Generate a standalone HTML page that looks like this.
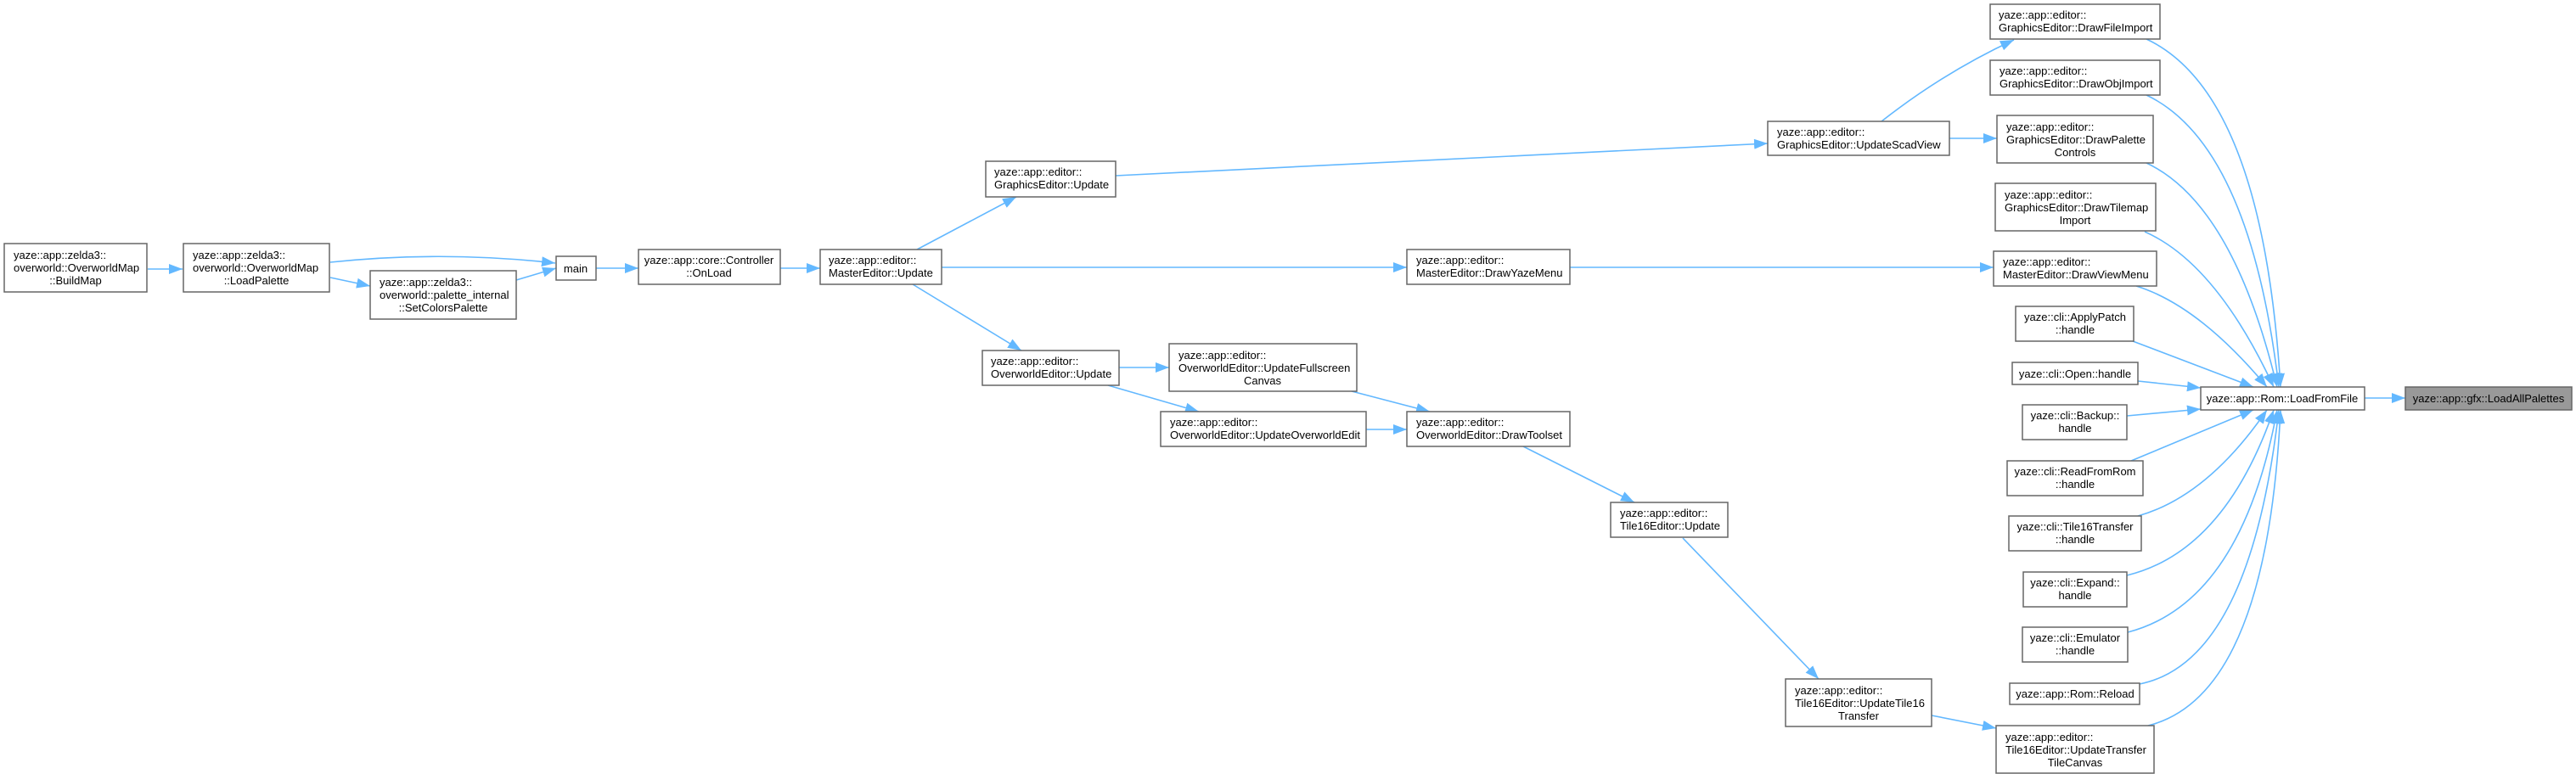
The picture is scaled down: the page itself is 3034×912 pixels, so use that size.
<!DOCTYPE html>
<html><head><meta charset="utf-8"><style>
html,body{margin:0;padding:0;background:#fff;}
svg{display:block;}
text{font-family:"Liberation Sans",sans-serif;font-size:13px;fill:#000;}
.n{fill:#fff;stroke:#666;stroke-width:1.5;}
.e{fill:none;stroke:#63b8ff;stroke-width:1.6;}
</style></head><body>
<svg width="3034" height="912" viewBox="0 0 3034 912" xmlns="http://www.w3.org/2000/svg">
<defs>
<marker id="b" viewBox="0 0 10 10" refX="10" refY="5" markerWidth="16" markerHeight="12" markerUnits="userSpaceOnUse" orient="auto" preserveAspectRatio="none"><path d="M0,0 L10,5 L0,10 z" fill="#63b8ff"/></marker></defs>

<g class="edges">
<path class="e" marker-end="url(#b)" d="M174,317 L215,317"/>
<path class="e" marker-end="url(#b)" d="M389,309 Q520,295 654,310"/>
<path class="e" marker-end="url(#b)" d="M389,327 L436,337"/>
<path class="e" marker-end="url(#b)" d="M608,330 L655,316"/>
<path class="e" marker-end="url(#b)" d="M702,316 L752,316"/>
<path class="e" marker-end="url(#b)" d="M919,316 L966,316"/>
<path class="e" marker-end="url(#b)" d="M1080,294 L1197,232"/>
<path class="e" marker-end="url(#b)" d="M1109,315 L1657,315"/>
<path class="e" marker-end="url(#b)" d="M1075,335 L1203,413"/>
<path class="e" marker-end="url(#b)" d="M1314,207 L2082,169"/>
<path class="e" marker-end="url(#b)" d="M1318,433 L1377,433"/>
<path class="e" marker-end="url(#b)" d="M1305,454 L1412,485"/>
<path class="e" marker-end="url(#b)" d="M1592,461 L1684,485"/>
<path class="e" marker-end="url(#b)" d="M1609,506 L1657,506"/>
<path class="e" marker-end="url(#b)" d="M1794,526 L1925,592"/>
<path class="e" marker-end="url(#b)" d="M1982,634 L2142,800"/>
<path class="e" marker-end="url(#b)" d="M2275,843 L2351,858"/>
<path class="e" marker-end="url(#b)" d="M2216,143 Q2290,85 2372,47"/>
<path class="e" marker-end="url(#b)" d="M2296,163 L2352,163"/>
<path class="e" marker-end="url(#b)" d="M1849,315 L2348,315"/>
<path class="e" marker-end="url(#b)" d="M2785,469 L2833,469"/>
<path class="e" marker-end="url(#b)" d="M2528,46 Q2665,110 2686,456"/>
<path class="e" marker-end="url(#b)" d="M2528,112 Q2650,170 2684,456"/>
<path class="e" marker-end="url(#b)" d="M2528,192 Q2630,240 2682,456"/>
<path class="e" marker-end="url(#b)" d="M2526,273 Q2610,310 2678,456"/>
<path class="e" marker-end="url(#b)" d="M2516,337 Q2590,360 2670,456"/>
<path class="e" marker-end="url(#b)" d="M2512,402 L2654,456"/>
<path class="e" marker-end="url(#b)" d="M2518,449 L2592,457"/>
<path class="e" marker-end="url(#b)" d="M2505,490 L2592,482"/>
<path class="e" marker-end="url(#b)" d="M2510,543 L2654,483"/>
<path class="e" marker-end="url(#b)" d="M2518,608 Q2600,585 2670,483"/>
<path class="e" marker-end="url(#b)" d="M2505,678 Q2620,650 2678,483"/>
<path class="e" marker-end="url(#b)" d="M2506,745 Q2640,710 2682,483"/>
<path class="e" marker-end="url(#b)" d="M2520,806 Q2650,780 2684,483"/>
<path class="e" marker-end="url(#b)" d="M2530,855 Q2670,820 2686,483"/>
</g>

<g>
<rect class="n" x="5" y="287" width="168" height="57"/>
<text x="16" y="305">yaze::app::zelda3::</text><text x="16" y="320">overworld::OverworldMap</text><text x="89" y="335" text-anchor="middle">::BuildMap</text>

<rect class="n" x="216" y="287" width="172" height="57"/>
<text x="227" y="305">yaze::app::zelda3::</text><text x="227" y="320">overworld::OverworldMap</text><text x="302" y="335" text-anchor="middle">::LoadPalette</text>

<rect class="n" x="436" y="319" width="172" height="57"/>
<text x="447" y="337">yaze::app::zelda3::</text><text x="447" y="352">overworld::palette_internal</text><text x="522" y="367" text-anchor="middle">::SetColorsPalette</text>

<rect class="n" x="655" y="302" width="47" height="28"/>
<text x="678" y="321" text-anchor="middle">main</text>

<rect class="n" x="752" y="294" width="167" height="41"/>
<text x="835" y="311" text-anchor="middle">yaze::app::core::Controller</text><text x="835" y="326" text-anchor="middle">::OnLoad</text>

<rect class="n" x="966" y="294" width="143" height="41"/>
<text x="976" y="311">yaze::app::editor::</text><text x="976" y="326">MasterEditor::Update</text>

<rect class="n" x="1161" y="190" width="153" height="42"/>
<text x="1171" y="207">yaze::app::editor::</text><text x="1171" y="222">GraphicsEditor::Update</text>

<rect class="n" x="1157" y="413" width="161" height="41"/>
<text x="1167" y="430">yaze::app::editor::</text><text x="1167" y="445">OverworldEditor::Update</text>

<rect class="n" x="1377" y="405" width="221" height="56"/>
<text x="1388" y="423">yaze::app::editor::</text><text x="1388" y="438">OverworldEditor::UpdateFullscreen</text><text x="1487" y="453" text-anchor="middle">Canvas</text>

<rect class="n" x="1367" y="485" width="242" height="41"/>
<text x="1378" y="502">yaze::app::editor::</text><text x="1378" y="517">OverworldEditor::UpdateOverworldEdit</text>

<rect class="n" x="1657" y="294" width="192" height="41"/>
<text x="1668" y="311">yaze::app::editor::</text><text x="1668" y="326">MasterEditor::DrawYazeMenu</text>

<rect class="n" x="1657" y="485" width="192" height="41"/>
<text x="1668" y="502">yaze::app::editor::</text><text x="1668" y="517">OverworldEditor::DrawToolset</text>

<rect class="n" x="2082" y="143" width="214" height="40"/>
<text x="2093" y="160">yaze::app::editor::</text><text x="2093" y="175">GraphicsEditor::UpdateScadView</text>

<rect class="n" x="1897" y="592" width="138" height="41"/>
<text x="1908" y="609">yaze::app::editor::</text><text x="1908" y="624">Tile16Editor::Update</text>

<rect class="n" x="2103" y="800" width="172" height="56"/>
<text x="2114" y="818">yaze::app::editor::</text><text x="2114" y="833">Tile16Editor::UpdateTile16</text><text x="2189" y="848" text-anchor="middle">Transfer</text>

<rect class="n" x="2344" y="5" width="200" height="41"/>
<text x="2354" y="22">yaze::app::editor::</text><text x="2354" y="37">GraphicsEditor::DrawFileImport</text>

<rect class="n" x="2344" y="71" width="200" height="41"/>
<text x="2355" y="88">yaze::app::editor::</text><text x="2355" y="103">GraphicsEditor::DrawObjImport</text>

<rect class="n" x="2352" y="136" width="184" height="56"/>
<text x="2363" y="154">yaze::app::editor::</text><text x="2363" y="169">GraphicsEditor::DrawPalette</text><text x="2444" y="184" text-anchor="middle">Controls</text>

<rect class="n" x="2350" y="216" width="189" height="56"/>
<text x="2361" y="234">yaze::app::editor::</text><text x="2361" y="249">GraphicsEditor::DrawTilemap</text><text x="2444" y="264" text-anchor="middle">Import</text>

<rect class="n" x="2348" y="296" width="192" height="41"/>
<text x="2359" y="313">yaze::app::editor::</text><text x="2359" y="328">MasterEditor::DrawViewMenu</text>

<rect class="n" x="2374" y="361" width="139" height="41"/>
<text x="2444" y="378" text-anchor="middle">yaze::cli::ApplyPatch</text><text x="2444" y="393" text-anchor="middle">::handle</text>

<rect class="n" x="2370" y="427" width="148" height="26"/>
<text x="2444" y="445" text-anchor="middle">yaze::cli::Open::handle</text>

<rect class="n" x="2382" y="477" width="123" height="41"/>
<text x="2444" y="494" text-anchor="middle">yaze::cli::Backup::</text><text x="2444" y="509" text-anchor="middle">handle</text>

<rect class="n" x="2364" y="543" width="160" height="41"/>
<text x="2444" y="560" text-anchor="middle">yaze::cli::ReadFromRom</text><text x="2444" y="575" text-anchor="middle">::handle</text>

<rect class="n" x="2366" y="608" width="156" height="41"/>
<text x="2444" y="625" text-anchor="middle">yaze::cli::Tile16Transfer</text><text x="2444" y="640" text-anchor="middle">::handle</text>

<rect class="n" x="2383" y="674" width="122" height="41"/>
<text x="2444" y="691" text-anchor="middle">yaze::cli::Expand::</text><text x="2444" y="706" text-anchor="middle">handle</text>

<rect class="n" x="2382" y="739" width="124" height="41"/>
<text x="2444" y="756" text-anchor="middle">yaze::cli::Emulator</text><text x="2444" y="771" text-anchor="middle">::handle</text>

<rect class="n" x="2367" y="805" width="153" height="25"/>
<text x="2444" y="822" text-anchor="middle">yaze::app::Rom::Reload</text>

<rect class="n" x="2351" y="855" width="186" height="56"/>
<text x="2362" y="873">yaze::app::editor::</text><text x="2362" y="888">Tile16Editor::UpdateTransfer</text><text x="2444" y="903" text-anchor="middle">TileCanvas</text>

<rect class="n" x="2592" y="456" width="193" height="27"/>
<text x="2688" y="474" text-anchor="middle">yaze::app::Rom::LoadFromFile</text>

<rect x="2833" y="456" width="196" height="27" fill="#999" stroke="#666" stroke-width="1.5"/>
<text x="2931" y="474" text-anchor="middle">yaze::app::gfx::LoadAllPalettes</text>
</g>
</svg>
</body></html>
